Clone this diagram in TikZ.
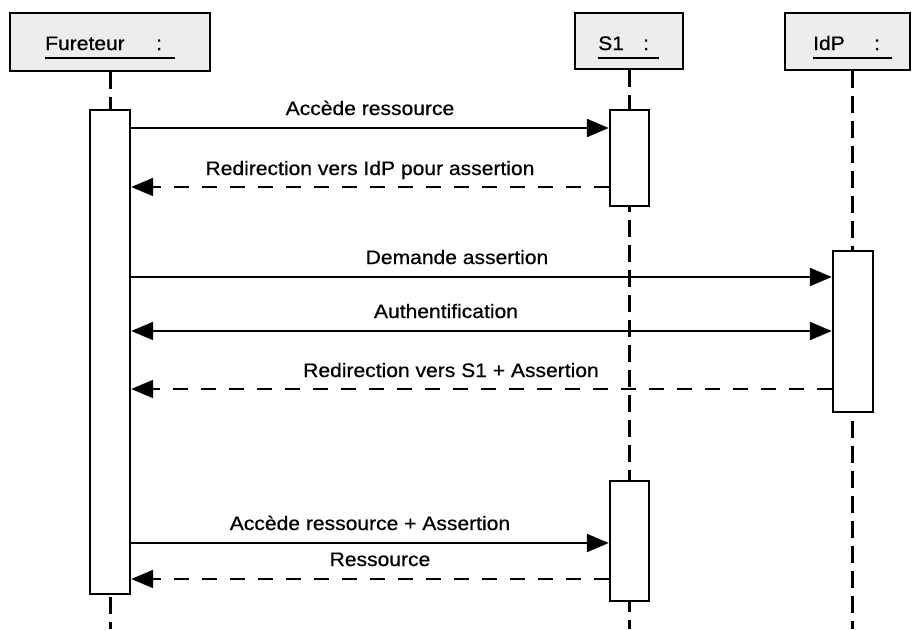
\documentclass[tikz,border=0pt]{standalone}
\usepackage{fontspec}
\setmainfont{Liberation Sans}[FakeStretch=1.08,FakeBold=0.6]
\usetikzlibrary{arrows.meta}
\begin{document}
\begin{tikzpicture}[x=1pt,y=-1pt,
  font=\fontsize{19.5}{22}\selectfont,
  head/.style={draw, line width=2.4pt, fill=gray!14, inner sep=0pt},
  act/.style={draw, line width=2.4pt, fill=white, inner sep=0pt},
  life/.style={line width=3pt, dash pattern=on 17pt off 8pt},
  uline/.style={line width=2.2pt},
  tip/.style={-{Triangle[length=22pt,width=18pt]}},
  call/.style={tip, line width=2.2pt},
  reply/.style={tip, line width=2.2pt, dash pattern=on 15pt off 13pt},
  lbl/.style={anchor=base, inner sep=0pt}]
\useasboundingbox (0,0) rectangle (912,629);

% object headers
\node[head, minimum width=200pt, minimum height=58pt] (fh) at (110,42) {};
\node[head, minimum width=108pt, minimum height=56pt] (sh) at (629,41) {};
\node[head, minimum width=125pt, minimum height=57pt] (ih) at (847.5,41.5) {};

\node[lbl, anchor=base west] (ft) at (45,50) {Fureteur};
\node[lbl, anchor=base west] (fc) at (156,50) {:};
\draw[uline] (45,58) -- (175,58);
\node[lbl, anchor=base west] (st) at (598,50) {S1};
\node[lbl, anchor=base west] (sc) at (643,50) {:};
\draw[uline] (598,58) -- (659,58);
\node[lbl, anchor=base west] (it) at (813,50) {IdP};
\node[lbl, anchor=base west] (ic) at (874,50) {:};
\draw[uline] (813,58) -- (892,58);

% lifelines
\coordinate (bot) at (0,629);
\draw[life] (fh.south) -- (fh.south |- bot);
\draw[life] (sh.south) -- (sh.south |- bot);
\draw[life] (852,70.5) -- (852,629);

% activation bars
\node[act, minimum width=40pt, minimum height=484pt] (fa) at (110,352) {};
\node[act, minimum width=39pt, minimum height=96pt] (s1a) at (629.5,158) {};
\node[act, minimum width=40pt, minimum height=161pt] (ida) at (853,331.5) {};
\node[act, minimum width=39pt, minimum height=120pt] (s1b) at (629.5,541) {};

% message rows
\coordinate (m1) at (0,128);
\coordinate (m2) at (0,187);
\coordinate (m3) at (0,277);
\coordinate (m4) at (0,331);
\coordinate (m5) at (0,389);
\coordinate (m6) at (0,543);
\coordinate (m7) at (0,579);

\draw[call]  (fa.east |- m1) -- (s1a.west |- m1);
\draw[reply] (s1a.west |- m2) -- (fa.east |- m2);
\draw[call]  (fa.east |- m3) -- (ida.west |- m3);
\draw[call, {Triangle[length=22pt,width=18pt]}-{Triangle[length=22pt,width=18pt]}] (fa.east |- m4) -- (ida.west |- m4);
\draw[reply] (ida.west |- m5) -- (fa.east |- m5);
\draw[call]  (fa.east |- m6) -- (s1b.west |- m6);
\draw[reply] (s1b.west |- m7) -- (fa.east |- m7);

% message labels
\node[lbl] (l1) at (370,115) {Accède ressource};
\node[lbl] (l2) at (370,175) {Redirection vers IdP pour assertion};
\node[lbl] (l3) at (457,264) {Demande assertion};
\node[lbl] (l4) at (446,318) {Authentification};
\node[lbl] (l5) at (451,377) {Redirection vers S1 + Assertion};
\node[lbl] (l6) at (370,530) {Accède ressource + Assertion};
\node[lbl] (l7) at (380,566) {Ressource};
\end{tikzpicture}
\end{document}
